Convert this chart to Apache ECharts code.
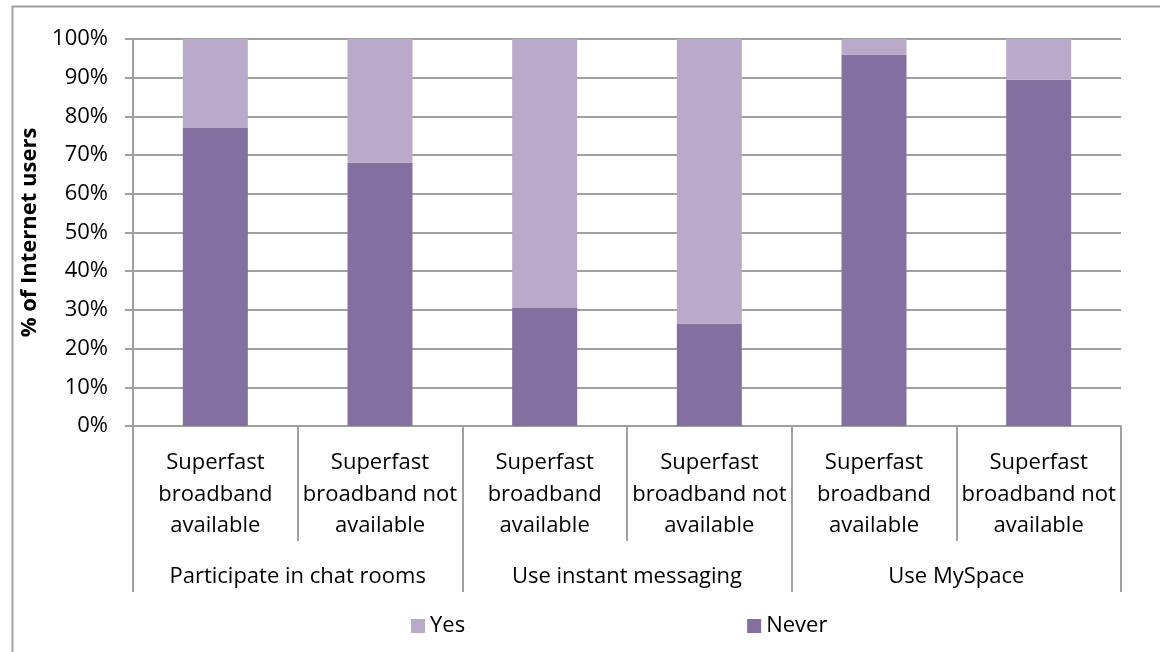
<!DOCTYPE html>
<html>
<head>
<meta charset="utf-8">
<script src="https://cdn.jsdelivr.net/npm/echarts@6/dist/echarts.min.js"></script>
<style>
  html, body { margin: 0; padding: 0; background: #fff; }
  #chart { width: 1160px; height: 652px; }
</style>
</head>
<body>
<div id="chart"></div>
<script>
// categories (inner level) and groups (outer level)
var categories = [
  'Superfast\nbroadband\navailable', 'Superfast\nbroadband not\navailable',
  'Superfast\nbroadband\navailable', 'Superfast\nbroadband not\navailable',
  'Superfast\nbroadband\navailable', 'Superfast\nbroadband not\navailable'
]
var groups = ['Participate in chat rooms', 'Use instant messaging', 'Use MySpace']
var neverValues = [77, 68, 30.5, 26.5, 96, 89.5]
var yesValues = [23, 32, 69.5, 73.5, 4, 10.5]

var font = '"Open Sans", Lato, sans-serif'
var fs = 22
var gridColor = '#a0a0a0'

var myChart = echarts.init(document.getElementById('chart'))
var option = {
  animation: false,
  textStyle: { fontFamily: font, color: '#000' },
  color: ['#8470a0', '#b9aaca'],
  grid: { left: 133, right: 39, top: 39, bottom: 226, containLabel: false },
  graphic: [{
    type: 'rect',
    left: 10,
    top: 4,
    shape: { width: 1200, height: 700 },
    style: { fill: 'none', stroke: gridColor, lineWidth: 2 }
  }],
  legend: {
    data: ['Yes', 'Never'],
    left: 406,
    top: 610,
    itemWidth: 14,
    itemHeight: 14,
    itemGap: 282,
    icon: 'rect',
    textStyle: { fontFamily: font, fontSize: fs, color: '#000' }
  },
  xAxis: [{
    type: 'category',
    data: categories,
    position: 'bottom',
    axisLine: { lineStyle: { color: gridColor, width: 2 } },
    axisTick: { show: true, length: 115, interval: 0, lineStyle: { color: gridColor, width: 2 } },
    axisLabel: { interval: 0, fontSize: fs, lineHeight: 31.5, margin: 21, color: '#000', fontFamily: font }
  }, {
    type: 'category',
    data: groups,
    position: 'bottom',
    axisLine: { show: false },
    axisTick: { show: true, length: 166, interval: 0, lineStyle: { color: gridColor, width: 2 } },
    axisLabel: { interval: 0, fontSize: fs, lineHeight: 26, margin: 138, color: '#000', fontFamily: font }
  }],
  yAxis: {
    type: 'value',
    min: 0,
    max: 100,
    interval: 10,
    name: '% of Internet users',
    nameLocation: 'middle',
    nameRotate: 90,
    nameGap: 84,
    nameTextStyle: { fontSize: fs, fontWeight: 'bold', color: '#000', fontFamily: font },
    axisLine: { show: true, lineStyle: { color: gridColor, width: 2 } },
    axisTick: { show: true, length: 8, lineStyle: { color: gridColor, width: 2 } },
    axisLabel: { formatter: '{value}%', fontSize: fs, margin: 25, color: '#000', fontFamily: font },
    splitLine: { lineStyle: { color: gridColor, width: 2 } }
  },
  series: [{
    name: 'Never',
    type: 'bar',
    stack: 'total',
    barWidth: 65,
    data: neverValues
  }, {
    name: 'Yes',
    type: 'bar',
    stack: 'total',
    barWidth: 65,
    data: yesValues
  }]
}
myChart.setOption(option)
</script>
</body>
</html>
